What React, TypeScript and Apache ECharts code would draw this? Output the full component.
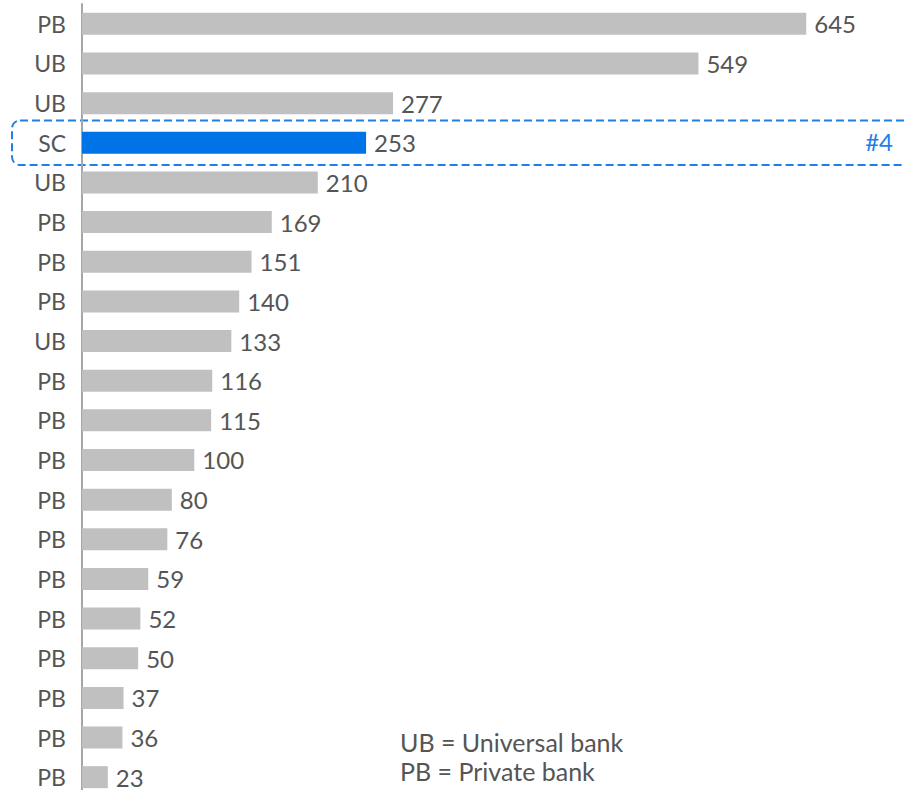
import React, { useEffect, useRef } from "react";
import * as echarts from "echarts";

const categories = ["PB", "UB", "UB", "SC", "UB", "PB", "PB", "PB", "UB", "PB", "PB", "PB", "PB", "PB", "PB", "PB", "PB", "PB", "PB", "PB"];
const values = [645, 549, 277, 253, 210, 169, 151, 140, 133, 116, 115, 100, 80, 76, 59, 52, 50, 37, 36, 23];
const highlightIndex = 3;
const highlightLabel = "#4";
const legendLines = ["UB = Universal bank", "PB = Private bank"];

const FONT = "Lato, 'Open Sans', sans-serif";
const GREY = "#c0c0c0";
const BLUE = "#0073e6";
const TEXT = "#555555";
const ACCENT = "#1f7fe6";

export default function App() {
  const ref = useRef<HTMLDivElement>(null);
  useEffect(() => {
    document.body.style.margin = "0";
    document.documentElement.style.overflow = "hidden";
    document.body.style.overflow = "hidden";
    const chart = echarts.init(ref.current!, null, { renderer: "svg" });
    const option: any = {
      animation: false,
      grid: { left: 82, top: 4, height: 793, width: 786 },
      xAxis: {
        type: "value",
        min: 0,
        max: 700,
        show: false,
      },
      yAxis: {
        type: "category",
        data: categories,
        inverse: true,
        axisLine: { show: true, lineStyle: { color: "#a6a6a6", width: 2 } },
        axisTick: { show: false },
        axisLabel: { color: TEXT, fontSize: 23, lineHeight: 20, fontFamily: FONT, margin: 16 },
      },
      series: [
        {
          type: "bar",
          barWidth: 22,
          data: values.map((v, i) => ({
            value: v,
            itemStyle: { color: i === highlightIndex ? BLUE : GREY },
          })),
          label: {
            show: true,
            position: "right",
            distance: 8,
            color: TEXT,
            fontSize: 24,
            lineHeight: 20,
            fontFamily: FONT,
          },
        },
      ],
    };
    chart.setOption(option);
    const yc = chart.convertToPixel({ yAxisIndex: 0 }, highlightIndex) as number;
    const yn = chart.convertToPixel({ yAxisIndex: 0 }, highlightIndex + 1) as number;
    const band = Math.abs(yn - yc);
    const boxH = band + 5;
    chart.setOption({
      graphic: [
        {
          type: "rect",
          shape: { x: 12, y: yc - boxH / 2, width: 910, height: boxH, r: 8 },
          style: { fill: "none", stroke: ACCENT, lineWidth: 2, lineDash: [8, 4] },
          silent: true,
        },
        {
          type: "text",
          right: 12,
          top: yc - 13,
          style: { text: highlightLabel, fill: ACCENT, fontSize: 24, fontFamily: FONT },
        },
        {
          type: "text",
          left: 400,
          top: 727,
          style: {
            text: legendLines.join("\n"),
            fill: TEXT,
            fontSize: 25,
            lineHeight: 29,
            fontFamily: FONT,
          },
        },
      ],
    });
    return () => chart.dispose();
  }, []);
  return <div ref={ref} style={{ width: 905, height: 800 }} />;
}
